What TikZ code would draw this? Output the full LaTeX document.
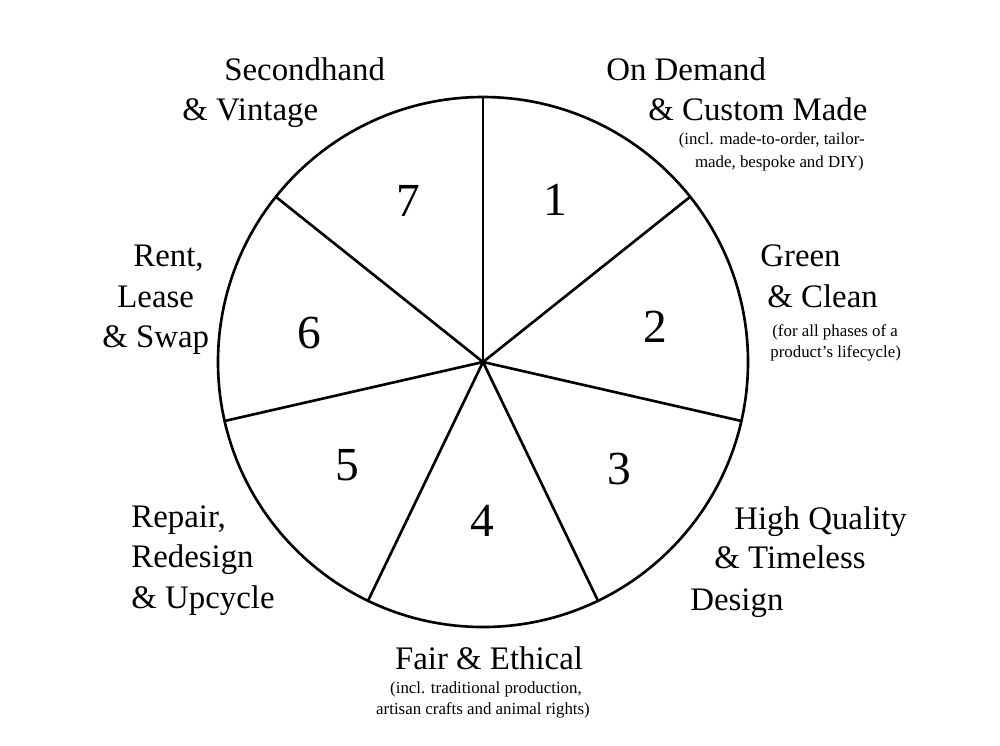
\documentclass[tikz,border=0pt]{standalone}
\usepackage{fontspec}
\setmainfont{Liberation Serif}
\begin{document}
\begin{tikzpicture}[x=0.02cm,y=-0.02cm,
  lbl/.style={anchor=west,inner sep=0pt,yshift=-3.4pt,font=\fontsize{18.7}{22}\selectfont,text height=0.68em,text depth=0.22em},
  sml/.style={anchor=west,inner sep=0pt,yshift=-1.1pt,font=\fontsize{9.6}{11}\selectfont,text height=0.68em,text depth=0.22em},
  num/.style={inner sep=0pt,font=\fontsize{27}{30}\selectfont},
  wheel/.style={line width=1.5pt,draw=black}]
\useasboundingbox (0,0) rectangle (1000,745);
\coordinate (c) at (483,362);
\draw[wheel] (c) circle[radius=265];
\foreach \i in {0,...,6}{
  \pgfmathsetmacro{\a}{90-\i*360/7}
  \path (c) ++ ({265*cos(\a)},{-265*sin(\a)}) coordinate (p\i);
  \draw[wheel] (c) -- (p\i);
}
% numbers
\node[num] (n1) at (555,200) {1};
\node[num] (n2) at (655,327) {2};
\node[num] (n3) at (619,469) {3};
\node[num] (n4) at (482,521) {4};
\node[num] (n5) at (347,465) {5};
\node[num] (n6) at (309,333) {6};
\node[num] (n7) at (408,201) {7};
% 1
\node[lbl] (l1a) at (606,70) {On Demand};
\node[lbl] (l1b) at (648,110) {\& Custom Made};
\node[sml,anchor=east] (l1c) at (865,139) {(incl. made-to-order, tailor-};
\node[sml,anchor=east] (l1d) at (864,162) {made, bespoke and DIY)};
% 2
\node[lbl] (l2a) at (760,256) {Green};
\node[lbl] (l2b) at (767,297) {\& Clean};
\node[sml] (l2c) at (772,331) {(for all phases of a};
\node[sml] (l2d) at (770,352) {product’s lifecycle)};
% 3
\node[lbl] (l3a) at (734,519) {High Quality};
\node[lbl] (l3b) at (714,558) {\& Timeless};
\node[lbl] (l3c) at (690,600) {Design};
% 4
\node[lbl,anchor=center] (l4a) at (489,659) {Fair \& Ethical};
\node[sml,anchor=center] (l4b) at (486,688) {(incl. traditional production,};
\node[sml,anchor=center] (l4c) at (483,709) {artisan crafts and animal rights)};
% 5
\node[lbl] (l5a) at (131,517) {Repair,};
\node[lbl] (l5b) at (131,557) {Redesign};
\node[lbl] (l5c) at (131,598) {\& Upcycle};
% 6
\node[lbl] (l6a) at (133,256) {Rent,};
\node[lbl] (l6b) at (117,297) {Lease};
\node[lbl] (l6c) at (102,337) {\& Swap};
% 7
\node[lbl] (l7a) at (224,70) {Secondhand};
\node[lbl] (l7b) at (182,110) {\& Vintage};
\end{tikzpicture}
\end{document}
